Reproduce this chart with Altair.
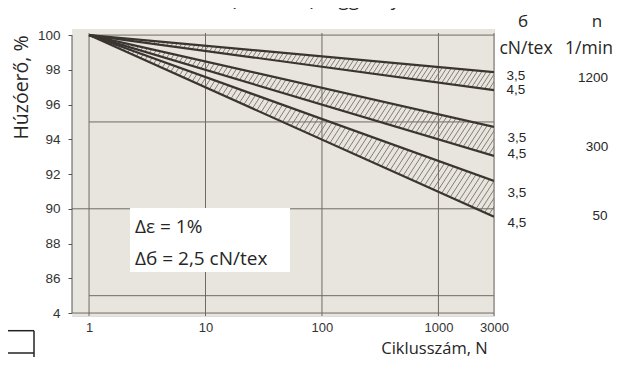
import altair as alt
import numpy as np
import pandas as pd

# ---------------- data ----------------
cycles = [1, 3000]                      # N, cycle count (log axis)
speeds = ["1200", "300", "50"]          # n, 1/min
sigma = ["3,5", "4,5"]                  # б, cN/tex
start_value = 100.0                     # all lines start at 100 % at N = 1
end_35 = [97.87, 94.72, 91.60]          # value at N = 3000, б = 3,5
end_45 = [96.83, 93.04, 89.54]          # value at N = 3000, б = 4,5

x_ticks = [1, 10, 100, 1000, 3000]
y_ticks = [84, 86, 88, 90, 92, 94, 96, 98, 100]
h_grid_inner = [100, 95, 85]            # start at N = 1
h_grid_full = [90, 84]                  # start at the left edge
v_grid = [1, 10, 100, 1000, 3000]

title_text = "és a fárasztási ciklus (n, 1/min) függvényében"
note_1 = "Δε = 1%"
note_2 = "Δб = 2,5 cN/tex"

# ---------------- layout ----------------
X_DOMAIN = [0.714, 3000]
Y_DOMAIN = [83.83, 100.35]
W, H = 422, 287
LINE = "#3a3531"
GRID = "#6f6a64"
TXT = "#262626"
BG = "#e8e5de"

xs = alt.Scale(type="log", domain=X_DOMAIN, nice=False)
ys = alt.Scale(domain=Y_DOMAIN, nice=False, zero=False)

xaxis = alt.Axis(values=x_ticks, format="d", grid=False, domain=False, ticks=False,
                 labelFont="Liberation Sans", labelFontSize=13, labelColor="#333",
                 labelPadding=5, labelFlush=False, labelOverlap=False,
                 title="Ciklusszám, N", titleFont="Open Sans", titleFontSize=16.5,
                 titleFontWeight="normal", titleColor=TXT, titleX=362, titleY=37,
                 titleBaseline="alphabetic", titleAlign="center")
yaxis = alt.Axis(values=y_ticks, grid=False, domain=False, ticks=True, tickSize=4,
                 tickColor="#555", tickWidth=1,
                 labelFont="Liberation Sans", labelFontSize=13.5, labelColor="#333",
                 labelPadding=8, labelFlush=False, labelOverlap=False,
                 labelExpr="datum.value == 84 ? '4' : datum.label",
                 title="Húzóerő, %", titleFont="Open Sans", titleFontSize=19.5,
                 titleFontWeight="normal", titleColor=TXT, titleX=-45, titleY=58,
                 titleAngle=270, titleBaseline="alphabetic", titleAlign="center")


def X(f):
    return alt.X(f"{f}:Q", scale=xs, axis=xaxis, title="Ciklusszám, N")


def Y(f):
    return alt.Y(f"{f}:Q", scale=ys, axis=yaxis, title="Húzóerő, %")


# ---------------- tables ----------------
line_rows = []
for sp, a, b in zip(speeds, end_35, end_45):
    for sg, e in zip(sigma, [a, b]):
        for n, v in zip(cycles, [start_value, e]):
            line_rows.append({"N": n, "value": v, "series": f"{sp}-{sg}"})
lines_df = pd.DataFrame(line_rows)

# hatch strokes between the two lines of each band
tmin, tmax = np.log10(X_DOMAIN)
kx = W / (tmax - tmin)
ky = H / (Y_DOMAIN[1] - Y_DOMAIN[0])
r, step = 0.65, 4.3
T_end = np.log10(cycles[1])
hatch_rows = []
for sp, a, b in zip(speeds, end_35, end_45):
    s_t = (start_value - a) / T_end
    s_b = (start_value - b) / T_end
    px = (0 - tmin) * kx + step
    while px < W:
        t0 = px / kx + tmin
        yb = start_value - s_b * t0
        d = (s_b - s_t) * t0 / (1 / ky + s_t * r / kx)
        hatch_rows.append({"N": 10 ** t0, "y": yb,
                           "N2": 10 ** (t0 + r * d / kx), "y2": yb + d / ky})
        px += step
hatch_df = pd.DataFrame(hatch_rows)

one = pd.DataFrame({"k": [0]})

# ---------------- layers ----------------
layers = []

bg = alt.Chart(one).mark_rect(color=BG).encode(
    x=alt.value(0), x2=alt.value(W), y=alt.value(0), y2=alt.value(H))
vgrid = alt.Chart(pd.DataFrame({"N": v_grid})).mark_rule(color=GRID, strokeWidth=1).encode(
    x=X("N"), y=alt.value(4), y2=alt.value(H))
hg_in = alt.Chart(pd.DataFrame({"v": h_grid_inner, "N0": [1] * 3})).mark_rule(
    color=GRID, strokeWidth=1).encode(x=X("N0"), x2=alt.value(W), y=Y("v"))
hg_full = alt.Chart(pd.DataFrame({"v": h_grid_full})).mark_rule(
    color=GRID, strokeWidth=1).encode(x=alt.value(0), x2=alt.value(W), y=Y("v"))
ydom = alt.Chart(pd.DataFrame({"a": [100], "b": [84]})).mark_rule(
    color="#555", strokeWidth=1).encode(x=alt.value(0), y=Y("a"), y2="b:Q")
layers += [bg, vgrid, hg_in, hg_full, ydom]

hatch = alt.Chart(hatch_df).mark_rule(color="#76716b", strokeWidth=0.9, clip=True).encode(
    x=X("N"), x2="N2:Q", y=Y("y"), y2="y2:Q")
lines = alt.Chart(lines_df).mark_line(color=LINE, strokeWidth=2.2, clip=True).encode(
    x=X("N"), y=Y("value"), detail="series:N")
layers += [hatch, lines]

# annotation box
box = alt.Chart(one).mark_rect(color="white").encode(
    x=alt.value(58), x2=alt.value(218), y=alt.value(179), y2=alt.value(243))
layers.append(box)

# texts: (text, x, y, size, font, align)
text_layout = [
    (note_1, 63, 204, 19, "Open Sans", "left"),
    (note_2, 63, 236, 19, "Open Sans", "left"),
    ("б", 451, -2, 17, "Open Sans", "center"),
    ("n", 525, -2, 17, "Open Sans", "center"),
    ("cN/tex", 454, 25, 17.5, "Open Sans", "center"),
    ("1/min", 517, 25, 17.5, "Open Sans", "center"),
    (sigma[0], 444, 51, 13.5, "Liberation Sans", "center"),
    (sigma[1], 444, 65, 13.5, "Liberation Sans", "center"),
    (speeds[0], 521, 53, 13.5, "Liberation Sans", "center"),
    (sigma[0], 445, 113, 13.5, "Liberation Sans", "center"),
    (sigma[1], 445, 129, 13.5, "Liberation Sans", "center"),
    (speeds[1], 525, 122, 13.5, "Liberation Sans", "center"),
    (sigma[0], 445, 168, 13.5, "Liberation Sans", "center"),
    (sigma[1], 445, 198, 13.5, "Liberation Sans", "center"),
    (speeds[2], 528, 191, 13.5, "Liberation Sans", "center"),
    (title_text, 373, -23, 19, "Open Sans", "right"),
]
for txt, x, y, size, font, align in text_layout:
    layers.append(
        alt.Chart(pd.DataFrame({"t": [txt]})).mark_text(
            font=font, fontSize=size, color=TXT, align=align, baseline="alphabetic"
        ).encode(x=alt.value(x), y=alt.value(y), text="t:N"))

# fragment of a frame at the bottom-left corner
frag_h = alt.Chart(one).mark_rule(color="#222", strokeWidth=1.5).encode(
    x=alt.value(-64), x2=alt.value(-38), y=alt.value(301.7))
frag_h2 = alt.Chart(one).mark_rule(color="#222", strokeWidth=1.5).encode(
    x=alt.value(-64), x2=alt.value(-38), y=alt.value(324))
frag_v = alt.Chart(one).mark_rule(color="#222", strokeWidth=1.5).encode(
    x=alt.value(-38), y=alt.value(301.7), y2=alt.value(340))
layers += [frag_h, frag_h2, frag_v]

chart = alt.layer(*layers).properties(
    width=W, height=H,
    padding={"left": 64, "top": 21, "right": 120, "bottom": 41},
    autosize=alt.AutoSizeParams(type="none"),
).configure_view(stroke=None).configure(background="white")

chart.save("out.html", embed_options={"renderer": "svg", "actions": False})
